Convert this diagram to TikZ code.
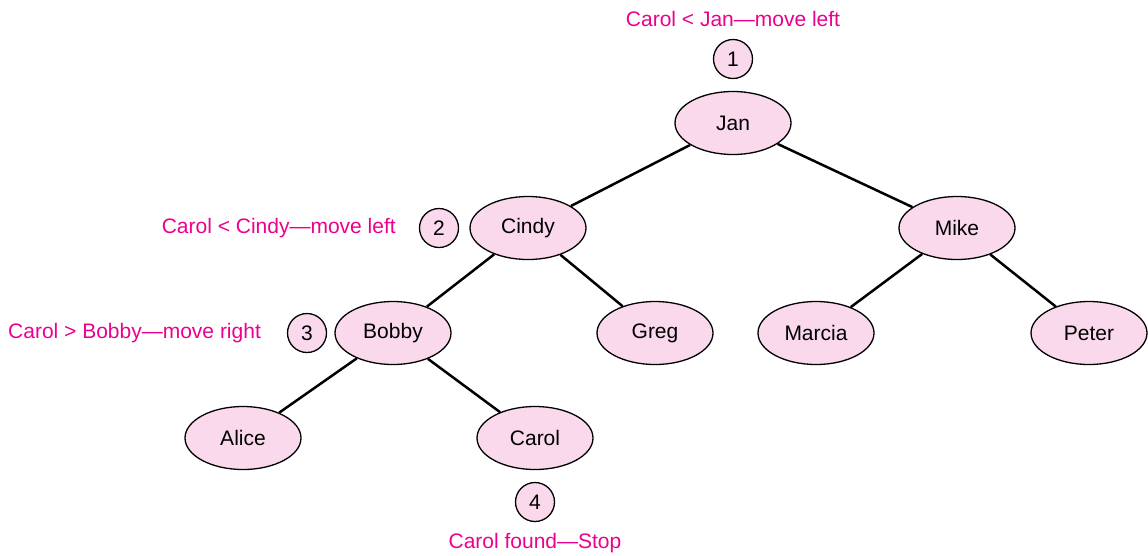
\documentclass[tikz,border=0pt]{standalone}
\usepackage{fontspec}
\setmainfont{Liberation Sans}
\usetikzlibrary{shapes.geometric}
\definecolor{nodefill}{HTML}{F9D9EB}
\definecolor{labelcol}{HTML}{EC008C}
\tikzset{
  treenode/.style={ellipse, draw=black, line width=1.3pt, fill=nodefill, minimum width=116pt, minimum height=63pt, inner sep=0pt, font=\fontsize{21}{24}\selectfont},
  stepnum/.style={circle, draw=black, line width=1.3pt, fill=nodefill, minimum size=39pt, inner sep=0pt, font=\fontsize{21}{24}\selectfont},
  steplabel/.style={text=labelcol, inner sep=0pt, font=\fontsize{21}{24}\selectfont},
  edge/.style={line width=2.5pt}
}
\begin{document}
\begin{tikzpicture}[x=1pt,y=-1pt]
\useasboundingbox (0,0) rectangle (1148,555);
\node[treenode] (jan) at (733,123) {Jan};
\node[treenode] (cindy) at (528,228) {Cindy};
\node[treenode] (mike) at (957,228) {Mike};
\node[treenode] (bobby) at (393,333) {Bobby};
\node[treenode] (greg) at (655,333) {Greg};
\node[treenode] (marcia) at (816,333) {Marcia};
\node[treenode] (peter) at (1089,333) {Peter};
\node[treenode] (alice) at (243,438) {Alice};
\node[treenode] (carol) at (535,438) {Carol};
\draw[edge] (jan) -- (cindy);
\draw[edge] (jan) -- (mike);
\draw[edge] (cindy) -- (bobby);
\draw[edge] (cindy) -- (greg);
\draw[edge] (mike) -- (marcia);
\draw[edge] (mike) -- (peter);
\draw[edge] (bobby) -- (alice);
\draw[edge] (bobby) -- (carol);
\node[stepnum] (s1) at (733,59) {1};
\node[stepnum] (s2) at (439,228) {2};
\node[stepnum] (s3) at (307,333) {3};
\node[stepnum] (s4) at (535,502) {4};
\node[steplabel] (l1) at (733,19) {Carol < Jan—move left};
\node[steplabel, anchor=east] (l2) at (396,228) {Carol < Cindy—move left};
\node[steplabel, anchor=west] (l3) at (8,333) {Carol > Bobby—move right};
\node[steplabel] (l4) at (535,543) {Carol found—Stop};
\end{tikzpicture}
\end{document}
